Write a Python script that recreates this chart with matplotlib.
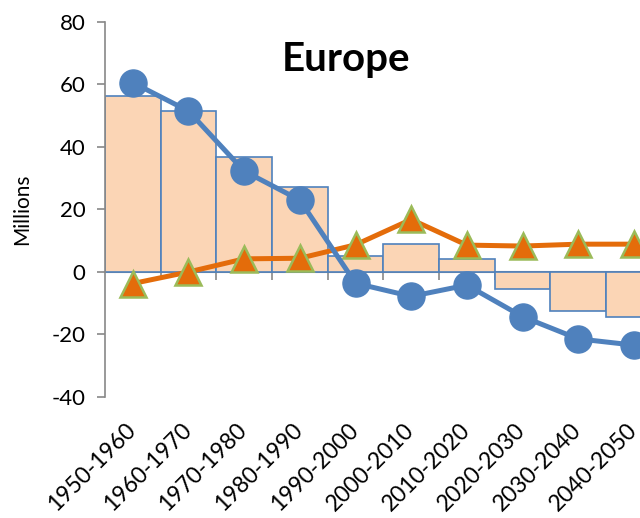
import matplotlib
matplotlib.use('Agg')
import matplotlib.pyplot as plt
import matplotlib.transforms as mtransforms
import numpy as np

plt.rcParams['font.family'] = ['Lato', 'DejaVu Sans']
plt.rcParams['axes.unicode_minus'] = False

periods = ['1950-1960', '1960-1970', '1970-1980', '1980-1990', '1990-2000',
           '2000-2010', '2010-2020', '2020-2030', '2030-2040', '2040-2050']
bar_values = [56.3, 51.5, 36.8, 27.2, 5.1, 9.0, 4.2, -5.5, -12.5, -14.5]
blue_values = [60.6, 51.5, 32.3, 23.0, -3.6, -7.8, -4.2, -14.3, -21.4, -23.4]
orange_values = [-3.7, 0.0, 4.2, 4.4, 8.7, 16.8, 8.6, 8.3, 8.9, 8.9]

fig = plt.figure(figsize=(6.4, 5.18), dpi=100)
ax = fig.add_axes([0.164, 0.2336, 0.870, 0.724])

x = np.arange(len(periods))
ax.bar(x, bar_values, width=1.0, color='#FBD5B5', edgecolor='#4F81BD', linewidth=1.2, zorder=2)
ax.plot(x, blue_values, color='#4F81BD', linewidth=3.6, marker='o', markersize=19.5, zorder=4)
ax.plot(x, orange_values, color='#E46C0A', linewidth=3.6, marker='^', markersize=19,
        markerfacecolor='#E46C0A', markeredgecolor='#9BBB59', markeredgewidth=1.8, zorder=3)

ax.set_xlim(-0.5, len(periods) - 0.5)
ax.set_ylim(-40, 80)
ax.set_yticks(range(-40, 81, 20))
ax.tick_params(axis='y', labelsize=16, length=6, color='#888888', width=1.2, pad=8)
ax.set_ylabel('Millions', fontsize=15, labelpad=14)

# category labels at the bottom, no ticks there
ax.set_xticks(x)
ax.set_xticklabels(periods, rotation=45, ha='right', rotation_mode='anchor', fontsize=16.5)
ax.tick_params(axis='x', length=0, pad=16)
shift = mtransforms.ScaledTranslation(-8 / 100, 0, fig.dpi_scale_trans)
for lab in ax.get_xticklabels():
    lab.set_transform(lab.get_transform() + shift)

for side in ['top', 'right', 'bottom']:
    ax.spines[side].set_visible(False)
ax.spines['left'].set_color('#888888')
ax.spines['left'].set_linewidth(1.2)

# zero line with tick marks between categories
zero_axis = ax.secondary_xaxis(1 / 3)
zero_axis.set_xticks(np.arange(0.5, len(periods) - 0.5, 1))
zero_axis.set_xticklabels([])
zero_axis.tick_params(length=6, color='#888888', width=1.2)
zero_axis.spines['bottom'].set_color('#888888')
zero_axis.spines['bottom'].set_linewidth(1.5)
zero_axis.spines['bottom'].set_zorder(5)

ax.text(0.433, 0.899, 'Europe', transform=ax.transAxes, fontsize=29, fontweight='bold',
        ha='center', va='center')

fig.savefig('out.png', dpi=100)
